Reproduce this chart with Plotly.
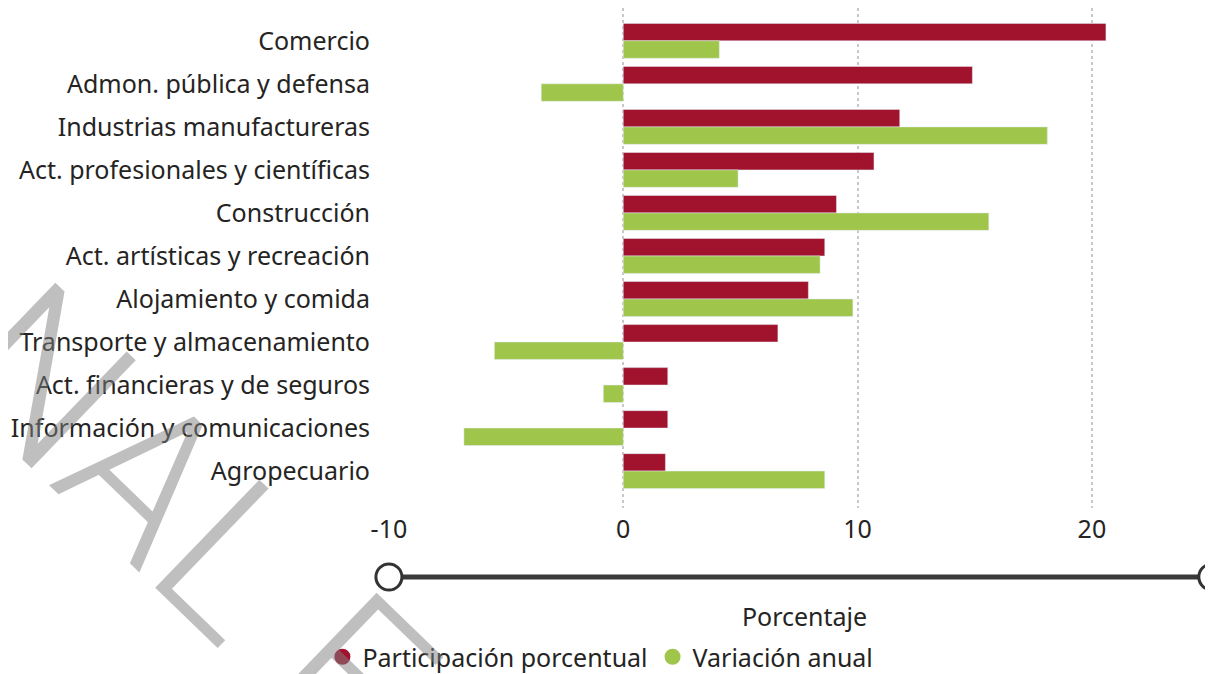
import plotly.graph_objects as go

# sectores y valores (%)
sectores = [
    "Comercio",
    "Admon. pública y defensa",
    "Industrias manufactureras",
    "Act. profesionales y científicas",
    "Construcción",
    "Act. artísticas y recreación",
    "Alojamiento y comida",
    "Transporte y almacenamiento",
    "Act. financieras y de seguros",
    "Información y comunicaciones",
    "Agropecuario",
]
participacion = [20.6, 14.9, 11.8, 10.7, 9.1, 8.6, 7.9, 6.6, 1.9, 1.9, 1.8]
variacion = [4.1, -3.5, 18.1, 4.9, 15.6, 8.4, 9.8, -5.5, -0.85, -6.8, 8.6]

x_ticks = [-10, 0, 10, 20]
x_ticktext = ["-10", "0", "10", "20"]

ROJO = "#A1122D"
VERDE = "#9FC54A"
TXT = "#252423"
FONT = "Noto Sans, Open Sans, sans-serif"
FS = 25

X_MIN, X_MAX = -10.04, 25.51

fig = go.Figure()

fig.add_trace(go.Bar(
    y=sectores, x=participacion, orientation="h",
    name="Participación porcentual", marker_color=ROJO, showlegend=False,
))
fig.add_trace(go.Bar(
    y=sectores, x=variacion, orientation="h",
    name="Variación anual", marker_color=VERDE, showlegend=False,
))

# leyenda con puntos redondos
for nombre, color in [("Participación porcentual", ROJO), ("Variación anual", VERDE)]:
    fig.add_trace(go.Scatter(
        x=[None], y=[None], mode="markers", name=nombre,
        marker=dict(color=color, size=16, symbol="circle"),
    ))

# slider de rango (decorativo)
y_slider = -0.138
x_left, x_right = 0.0011, 0.989
fig.add_shape(type="line", xref="paper", yref="paper",
              x0=x_left, x1=x_right, y0=y_slider, y1=y_slider,
              line=dict(color="#3A3A3A", width=5))
for xc in (x_left, x_right):
    fig.add_shape(type="circle", xref="paper", yref="paper",
                  xsizemode="pixel", ysizemode="pixel",
                  xanchor=xc, yanchor=y_slider,
                  x0=-13, x1=13, y0=-13, y1=13,
                  fillcolor="white", line=dict(color="#333333", width=3))

# marca de agua
fig.add_annotation(
    xref="paper", yref="paper", x=-0.2369, y=-0.0288,
    xanchor="center", yanchor="middle",
    text="NAL E", textangle=44, showarrow=False,
    font=dict(family="Roboto, sans-serif", size=211,
              color="rgba(128,128,128,0.5)", weight=300),
)

fig.update_layout(
    width=1213, height=674,
    margin=dict(l=380, r=0, t=0, b=174),
    paper_bgcolor="white", plot_bgcolor="white",
    font=dict(family=FONT, size=FS, color=TXT),
    barmode="group", bargap=0.19, bargroupgap=0,
    legend=dict(
        orientation="h", x=0.255, y=-0.298, xanchor="center", yanchor="middle",
        font=dict(size=FS, color=TXT), itemsizing="trace",
        itemwidth=30, tracegroupgap=0,
    ),
    xaxis=dict(
        range=[X_MIN, X_MAX], tickvals=x_ticks, ticktext=x_ticktext,
        showgrid=True, gridcolor="#C8C8C8", griddash="dot", gridwidth=1.5,
        zeroline=False, showline=False, ticks="",
        ticklabelstandoff=4,
        title=dict(text="Porcentaje", standoff=64, font=dict(size=FS, color=TXT)),
        fixedrange=True,
    ),
    yaxis=dict(
        type="category", range=[10.858, -0.763],
        showgrid=False, zeroline=False, showline=False, ticks="",
        ticklabelstandoff=17,
    ),
)

fig.write_html("out.html")
